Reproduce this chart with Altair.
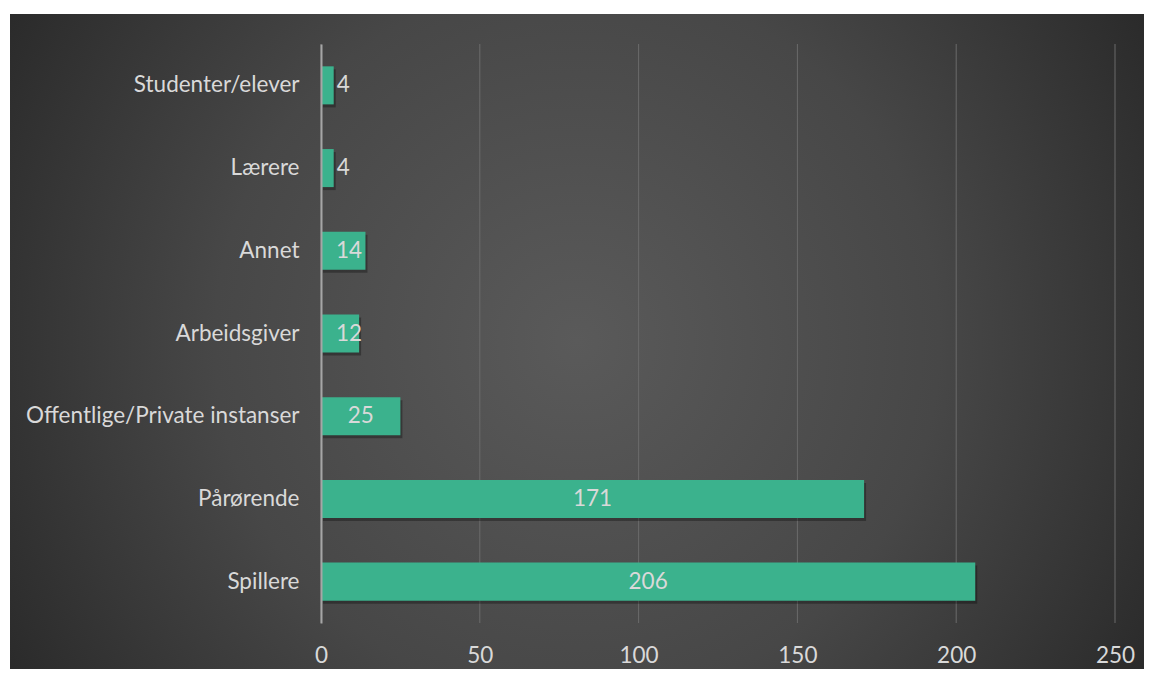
import altair as alt
import pandas as pd

categories = ["Studenter/elever", "Lærere", "Annet", "Arbeidsgiver",
              "Offentlige/Private instanser", "Pårørende", "Spillere"]
values = [4, 4, 14, 12, 25, 171, 206]
x_ticks = [0, 50, 100, 150, 200, 250]

df = pd.DataFrame({"kategori": categories, "antall": values})
ticks_df = pd.DataFrame({"t": x_ticks})
bg_df = pd.DataFrame({"a": [0]})

FONT = "Lato"
FS = 22.5
TXT = "#d9d9d9"
BAR = "#3bb28d"

W, H = 794, 579

xscale = alt.Scale(domain=[0, 250], nice=False, zero=True)
yscale = alt.Scale(paddingInner=0.54, paddingOuter=0.27)

xaxis = alt.Axis(values=x_ticks, grid=False, domain=False, ticks=False,
                 labelFont=FONT, labelFontSize=FS, labelColor=TXT,
                 labelPadding=21, labelFlush=False, title=None, zindex=1)
yaxis = alt.Axis(grid=False, ticks=False, domain=True,
                 domainColor="#a6a6a6", domainWidth=2,
                 labelFont=FONT, labelFontSize=FS, labelColor=TXT,
                 labelPadding=22, labelLimit=500, title=None, zindex=1)

gradient = {
    "gradient": "radial",
    "x1": 0.5, "y1": 0.5, "r1": 0,
    "x2": 0.5, "y2": 0.5, "r2": 0.71,
    "stops": [
        {"offset": 0, "color": "#5a5a5a"},
        {"offset": 0.45, "color": "#474747"},
        {"offset": 1, "color": "#1c1c1c"},
    ],
}

bg = alt.Chart(bg_df).mark_rect(fill=gradient).encode(
    x=alt.value(-311), x2=alt.value(W + 29),
    y=alt.value(-30), y2=alt.value(H + 46),
)

grid = alt.Chart(ticks_df).mark_rule(color="#6b6b6b", strokeWidth=1).encode(
    x=alt.X("t:Q", scale=xscale, axis=xaxis),
    y=alt.value(0), y2=alt.value(H),
)

shadow = alt.Chart(df).mark_bar(color="#000000", opacity=0.3,
                                xOffset=2, yOffset=3).encode(
    x=alt.X("antall:Q", scale=xscale),
    y=alt.Y("kategori:N", sort=categories, scale=yscale, axis=yaxis),
)

bars = alt.Chart(df).mark_bar(color=BAR).encode(
    x=alt.X("antall:Q", scale=xscale),
    y=alt.Y("kategori:N", sort=categories, scale=yscale),
)

inside = alt.Chart(df).transform_filter(alt.datum.antall >= 8).transform_calculate(
    pos="max(datum.antall / 2, 8.8)"
).mark_text(font=FONT, fontSize=FS, color=TXT, align="center", baseline="middle").encode(
    x=alt.X("pos:Q", scale=xscale),
    y=alt.Y("kategori:N", sort=categories, scale=yscale),
    text="antall:Q",
)

outside = alt.Chart(df).transform_filter(alt.datum.antall < 8).mark_text(
    font=FONT, fontSize=FS, color=TXT, align="left", baseline="middle", dx=3
).encode(
    x=alt.X("antall:Q", scale=xscale),
    y=alt.Y("kategori:N", sort=categories, scale=yscale),
    text="antall:Q",
)

chart = alt.layer(bg, grid, shadow, bars, inside, outside).properties(
    width=W, height=H,
    autosize=alt.AutoSizeParams(type="none"),
    padding={"left": 313, "top": 36, "right": 29, "bottom": 46},
    background="#ffffff",
).configure_view(stroke=None)

chart.save("out.html", embed_options={"renderer": "svg", "actions": False})
